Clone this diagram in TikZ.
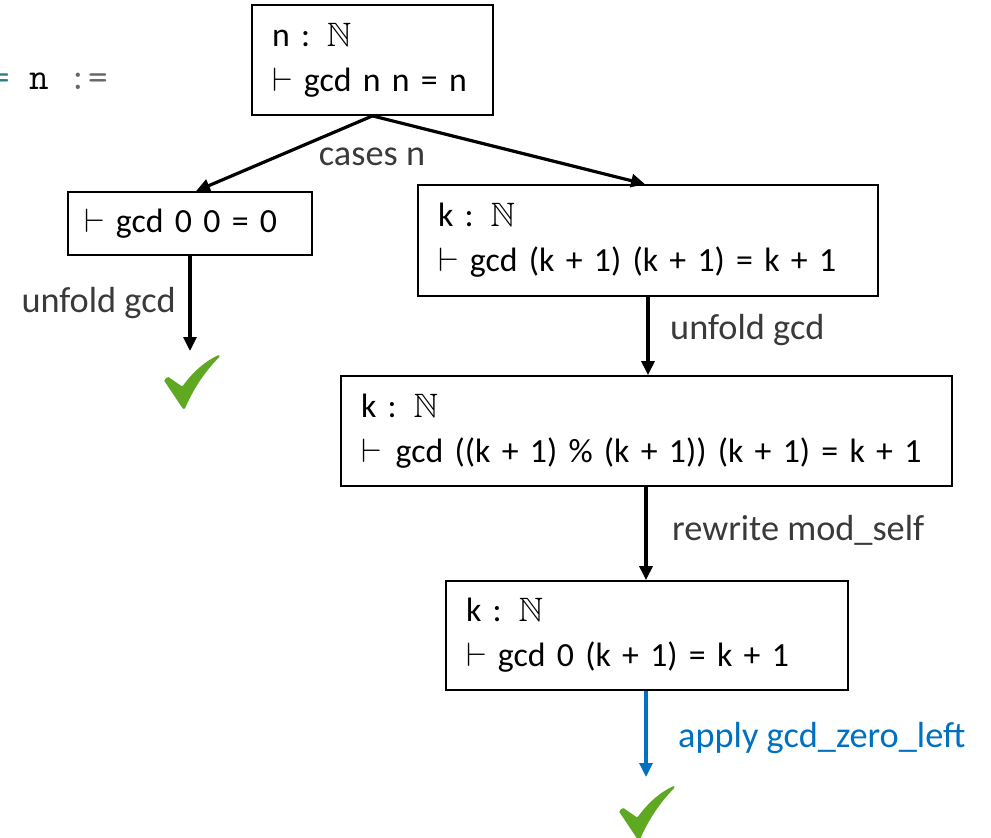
\RequirePackage{fix-cm}
\documentclass[tikz,border=0pt]{standalone}
\usepackage{amssymb}
\usepackage{fontspec}
\setmainfont{Carlito}
\usetikzlibrary{arrows.meta}
\definecolor{lblgray}{HTML}{3A3A3A}
\definecolor{applyblue}{HTML}{0070C0}
\definecolor{chkgreen}{HTML}{5FA821}
\definecolor{codeteal}{HTML}{2F7F86}
\definecolor{codegray}{HTML}{666666}
\tikzset{
  goal/.style={draw, line width=1.8pt, rectangle, inner xsep=20pt, inner ysep=0pt,
    align=left, font=\fontsize{33.8}{45}\selectfont, anchor=center},
  lbl/.style={font=\fontsize{36.3}{40}\selectfont, text=lblgray, inner sep=0pt},
  conn/.style={line width=3.2pt, -{Triangle[length=14pt,width=13pt]}},
  greencheck/.pic={
    \filldraw[fill=chkgreen, draw=white, line width=2pt, line join=round]
      (0,29) .. controls (2,25) .. (6,24) -- (19,33)
      .. controls (30,18) and (42,8) .. (55,2)
      .. controls (58,3) .. (57,6)
      .. controls (43,20) and (31,38) .. (23,57)
      .. controls (21,59) .. (18,56) -- cycle;
  }
}
\begin{document}
\begin{tikzpicture}[x=1pt,y=-1pt]
\useasboundingbox (0,0) rectangle (991,838);
% code fragment
\node[anchor=base west, inner sep=0pt, font=\ttfamily\fontsize{38}{38}\selectfont] (code) at (-10,89)
  {\textcolor{codeteal}{=} n \textcolor{codegray}{:=}};
% goals
\node[goal, text width=201pt, minimum height=110pt] (g0) at (372.5,60)
  {\mbox{n : $\mathbb{N}$}\\\mbox{$\vdash$ gcd n n = n}};
\node[goal, inner xsep=16pt, text width=212pt, minimum height=63pt] (g1) at (190,223.5)
  {\mbox{$\vdash$ gcd 0 0 = 0}};
\node[goal, text width=420pt, minimum height=111pt] (g2) at (648,240.5)
  {\mbox{k : $\mathbb{N}$}\\\mbox{$\vdash$ gcd (k + 1) (k + 1) = k + 1}};
\node[goal, text width=571pt, minimum height=110pt] (g3) at (646.5,431)
  {\mbox{k : $\mathbb{N}$}\\\mbox{$\vdash$\kern14pt gcd ((k + 1) \% (k + 1)) (k + 1) = k + 1}};
\node[goal, text width=362pt, minimum height=109pt] (g4) at (647,635.5)
  {\mbox{k : $\mathbb{N}$}\\\mbox{$\vdash$ gcd 0 (k + 1) = k + 1}};
% check marks
\coordinate (c1) at (190,351);
\coordinate (c2) at (646,777);
\pic at (163,352) {greencheck};
\pic at (618,783) {greencheck};
% connectors
\draw[conn] (g0.south) -- (g1.north -| 196,0);
\draw[conn] (g0.south) -- (g2.north -| 645,0);
\draw[conn] (g1.south) -- (c1);
\draw[conn] (g2.south) -- (g3.north -| g2.south);
\draw[conn] (g3.south -| 646,0) -- (g4.north -| 646,0);
\draw[conn, applyblue] (g4.south -| 646,0) -- (c2);
% labels
\node[lbl] (l0) at (372,157) {cases n};
\node[lbl, anchor=east] (l1) at (176,303) {unfold gcd};
\node[lbl, anchor=west] (l2) at (670,330) {unfold gcd};
\node[lbl, anchor=west] (l3) at (672,530) {rewrite mod\_self};
\node[lbl, anchor=west, text=applyblue] (l4) at (678,738) {apply gcd\_zero\_left};
\end{tikzpicture}
\end{document}
